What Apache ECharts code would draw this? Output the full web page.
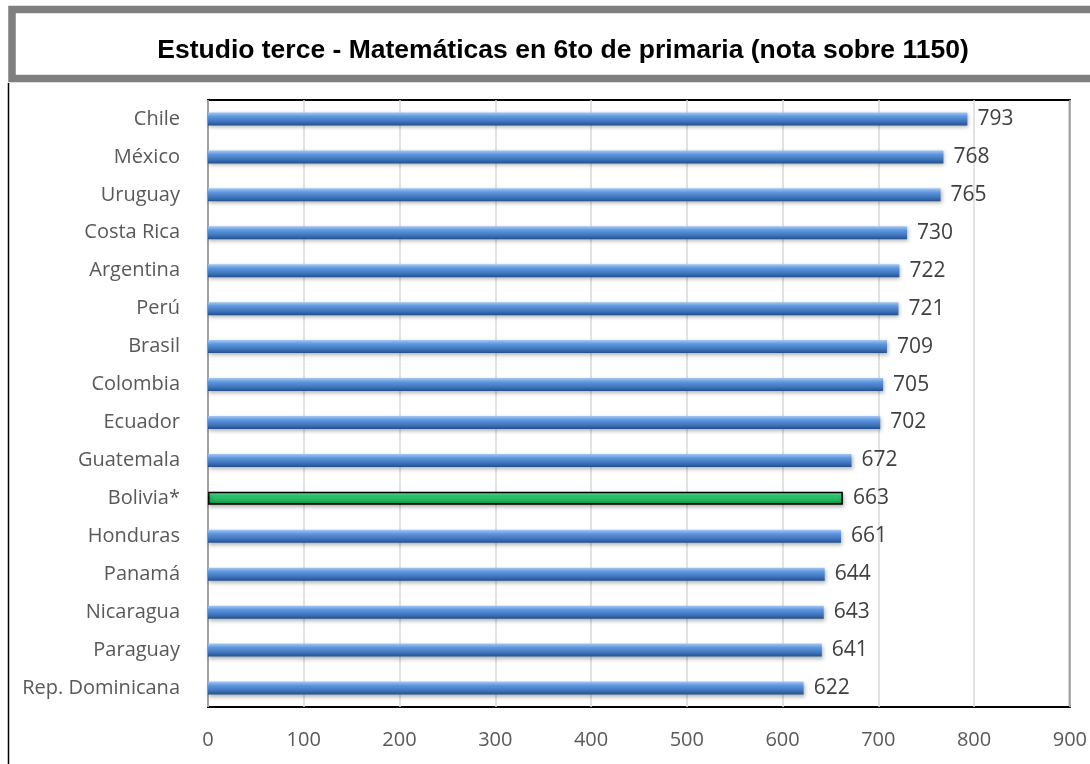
<!DOCTYPE html>
<html><head><meta charset="utf-8">
<script src="https://cdn.jsdelivr.net/npm/echarts@6/dist/echarts.min.js"></script>
<style>html,body{margin:0;padding:0;background:#fff;}#c{width:1090px;height:764px;}</style>
</head><body><div id="c"></div>
<script>
const titleText = 'Estudio terce - Matemáticas en 6to de primaria (nota sobre 1150)';
const categories = ['Chile','México','Uruguay','Costa Rica','Argentina','Perú','Brasil','Colombia','Ecuador','Guatemala','Bolivia*','Honduras','Panamá','Nicaragua','Paraguay','Rep. Dominicana'];
const values = [793,768,765,730,722,721,709,705,702,672,663,661,644,643,641,622];
const highlight = 'Bolivia*';
const xTicks = [0,100,200,300,400,500,600,700,800,900];

const blue = new echarts.graphic.LinearGradient(0,0,0,1,[
  {offset:0,color:'#a3c8f4'},{offset:0.3,color:'#5f97de'},{offset:0.7,color:'#3f74bd'},{offset:1,color:'#22508c'}]);
const green = new echarts.graphic.LinearGradient(0,0,0,1,[
  {offset:0,color:'#80e8a8'},{offset:0.3,color:'#2fcf72'},{offset:0.7,color:'#1fae5a'},{offset:1,color:'#137a3d'}]);

const chart = echarts.init(document.getElementById('c'));
chart.setOption({
  animation:false,
  title:{text:titleText,left:558,textAlign:'center',top:32,textStyle:{fontFamily:'Liberation Sans, Arial',fontWeight:'bold',fontSize:26.5,color:'#000'}},
  graphic:[
    {type:'rect',shape:{x:12,y:9.5,width:1100,height:69},style:{fill:'none',stroke:'#7f7f7f',lineWidth:7.5},z:10},
    {type:'line',shape:{x1:8.5,y1:83,x2:8.5,y2:764},style:{stroke:'#000',lineWidth:1.5},z:10}
  ],
  grid:{left:208,top:100,width:862,height:607,show:true,borderColor:'#000',borderWidth:2,containLabel:false},
  xAxis:{type:'value',min:0,max:900,interval:100,
    axisLine:{show:false},axisTick:{show:false},
    splitLine:{show:true,lineStyle:{color:'#d9d9d9',width:1.5}},
    axisLabel:{margin:23,color:'#595959',fontSize:20,fontFamily:'Open Sans',
      formatter:v=>xTicks.includes(v)?String(v):''}},
  yAxis:{type:'category',data:categories,inverse:true,
    axisLine:{show:false},axisTick:{show:false},
    axisLabel:{margin:28,color:'#595959',fontSize:20,fontFamily:'Open Sans'}},
  series:[{type:'bar',barWidth:13,
    data:values.map((v,i)=>({value:v,itemStyle:categories[i]===highlight?{color:green,borderColor:'#000',borderWidth:1.5}:{color:blue}})),
    itemStyle:{shadowColor:'rgba(0,0,0,0.3)',shadowBlur:4,shadowOffsetY:2,shadowOffsetX:1},
    label:{show:true,position:'right',distance:10,color:'#404040',fontSize:21,fontFamily:'Open Sans'}
  }]
});
</script></body></html>
